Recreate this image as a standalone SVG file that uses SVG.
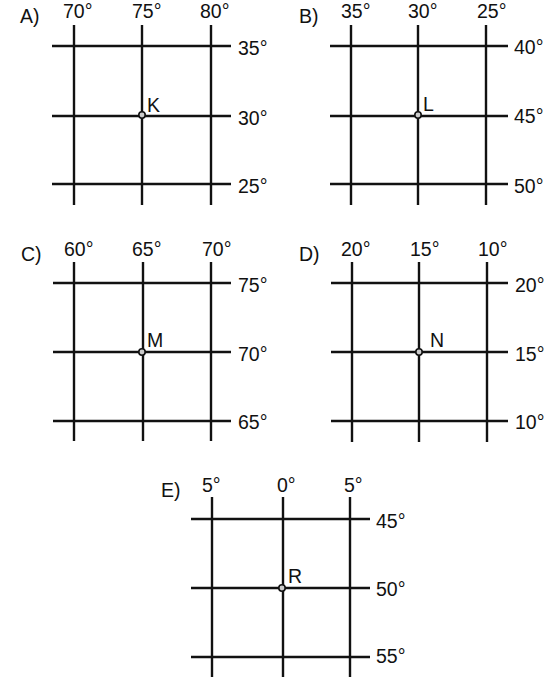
<svg xmlns="http://www.w3.org/2000/svg" width="546" height="680" viewBox="0 0 546 680">
<style>
.g line{stroke:#111;stroke-width:2.4;stroke-linecap:butt}
text{font-family:"Liberation Sans",Arial,sans-serif;font-size:19.5px;fill:#111}
.pt{fill:#ccc;stroke:#111;stroke-width:1.6}
</style>
<rect width="546" height="680" fill="#fff"/>
<g id="panelA">
<text x="20" y="23">A)</text>
<text x="63" y="18">70°</text><text x="132" y="18">75°</text><text x="200" y="18">80°</text>
<text x="238" y="55">35°</text><text x="238" y="125">30°</text><text x="238" y="193">25°</text>
<g class="g">
<line x1="74" y1="25" x2="74" y2="205"/><line x1="142" y1="25" x2="142" y2="205"/><line x1="211" y1="25" x2="211" y2="205"/>
<line x1="52" y1="46" x2="231" y2="46"/><line x1="52" y1="116" x2="231" y2="116"/><line x1="52" y1="184" x2="231" y2="184"/>
</g>
<circle class="pt" cx="142" cy="115" r="3.2"/>
<text x="147" y="112">K</text>
</g>
<g id="panelB">
<text x="299" y="23">B)</text>
<text x="341" y="18">35°</text><text x="408" y="18">30°</text><text x="477" y="18">25°</text>
<text x="514" y="54">40°</text><text x="514" y="123">45°</text><text x="514" y="193">50°</text>
<g class="g">
<line x1="351" y1="25" x2="351" y2="205"/><line x1="418" y1="25" x2="418" y2="205"/><line x1="486" y1="25" x2="486" y2="205"/>
<line x1="330" y1="46" x2="508" y2="46"/><line x1="330" y1="116" x2="508" y2="116"/><line x1="330" y1="184" x2="508" y2="184"/>
</g>
<circle class="pt" cx="418" cy="115" r="3.2"/>
<text x="423" y="111">L</text>
</g>
<g id="panelC">
<text x="21" y="261">C)</text>
<text x="64" y="256">60°</text><text x="132" y="256">65°</text><text x="202" y="256">70°</text>
<text x="238" y="292">75°</text><text x="238" y="361">70°</text><text x="238" y="429">65°</text>
<g class="g">
<line x1="74" y1="262" x2="74" y2="441"/><line x1="143" y1="262" x2="143" y2="441"/><line x1="211" y1="262" x2="211" y2="441"/>
<line x1="53" y1="283" x2="231" y2="283"/><line x1="53" y1="352" x2="231" y2="352"/><line x1="53" y1="421" x2="231" y2="421"/>
</g>
<circle class="pt" cx="142" cy="352" r="3.2"/>
<text x="147" y="347">M</text>
</g>
<g id="panelD">
<text x="299" y="261">D)</text>
<text x="341" y="256">20°</text><text x="410" y="256">15°</text><text x="478" y="256">10°</text>
<text x="515" y="292">20°</text><text x="515" y="361">15°</text><text x="515" y="429">10°</text>
<g class="g">
<line x1="352" y1="262" x2="352" y2="442"/><line x1="419" y1="262" x2="419" y2="442"/><line x1="487" y1="262" x2="487" y2="442"/>
<line x1="331" y1="283" x2="508" y2="283"/><line x1="331" y1="352" x2="508" y2="352"/><line x1="331" y1="421" x2="508" y2="421"/>
</g>
<circle class="pt" cx="419" cy="352" r="3.2"/>
<text x="430" y="347">N</text>
</g>
<g id="panelE">
<text x="161" y="497">E)</text>
<text x="202" y="492">5°</text><text x="277" y="492">0°</text><text x="344" y="492">5°</text>
<text x="376" y="528">45°</text><text x="376" y="596">50°</text><text x="376" y="663">55°</text>
<g class="g">
<line x1="212" y1="497" x2="212" y2="677"/><line x1="283" y1="497" x2="283" y2="677"/><line x1="350" y1="497" x2="350" y2="677"/>
<line x1="191" y1="519" x2="370" y2="519"/><line x1="191" y1="588" x2="370" y2="588"/><line x1="191" y1="657" x2="370" y2="657"/>
</g>
<circle class="pt" cx="282" cy="588" r="3.2"/>
<text x="288" y="583">R</text>
</g>
</svg>
